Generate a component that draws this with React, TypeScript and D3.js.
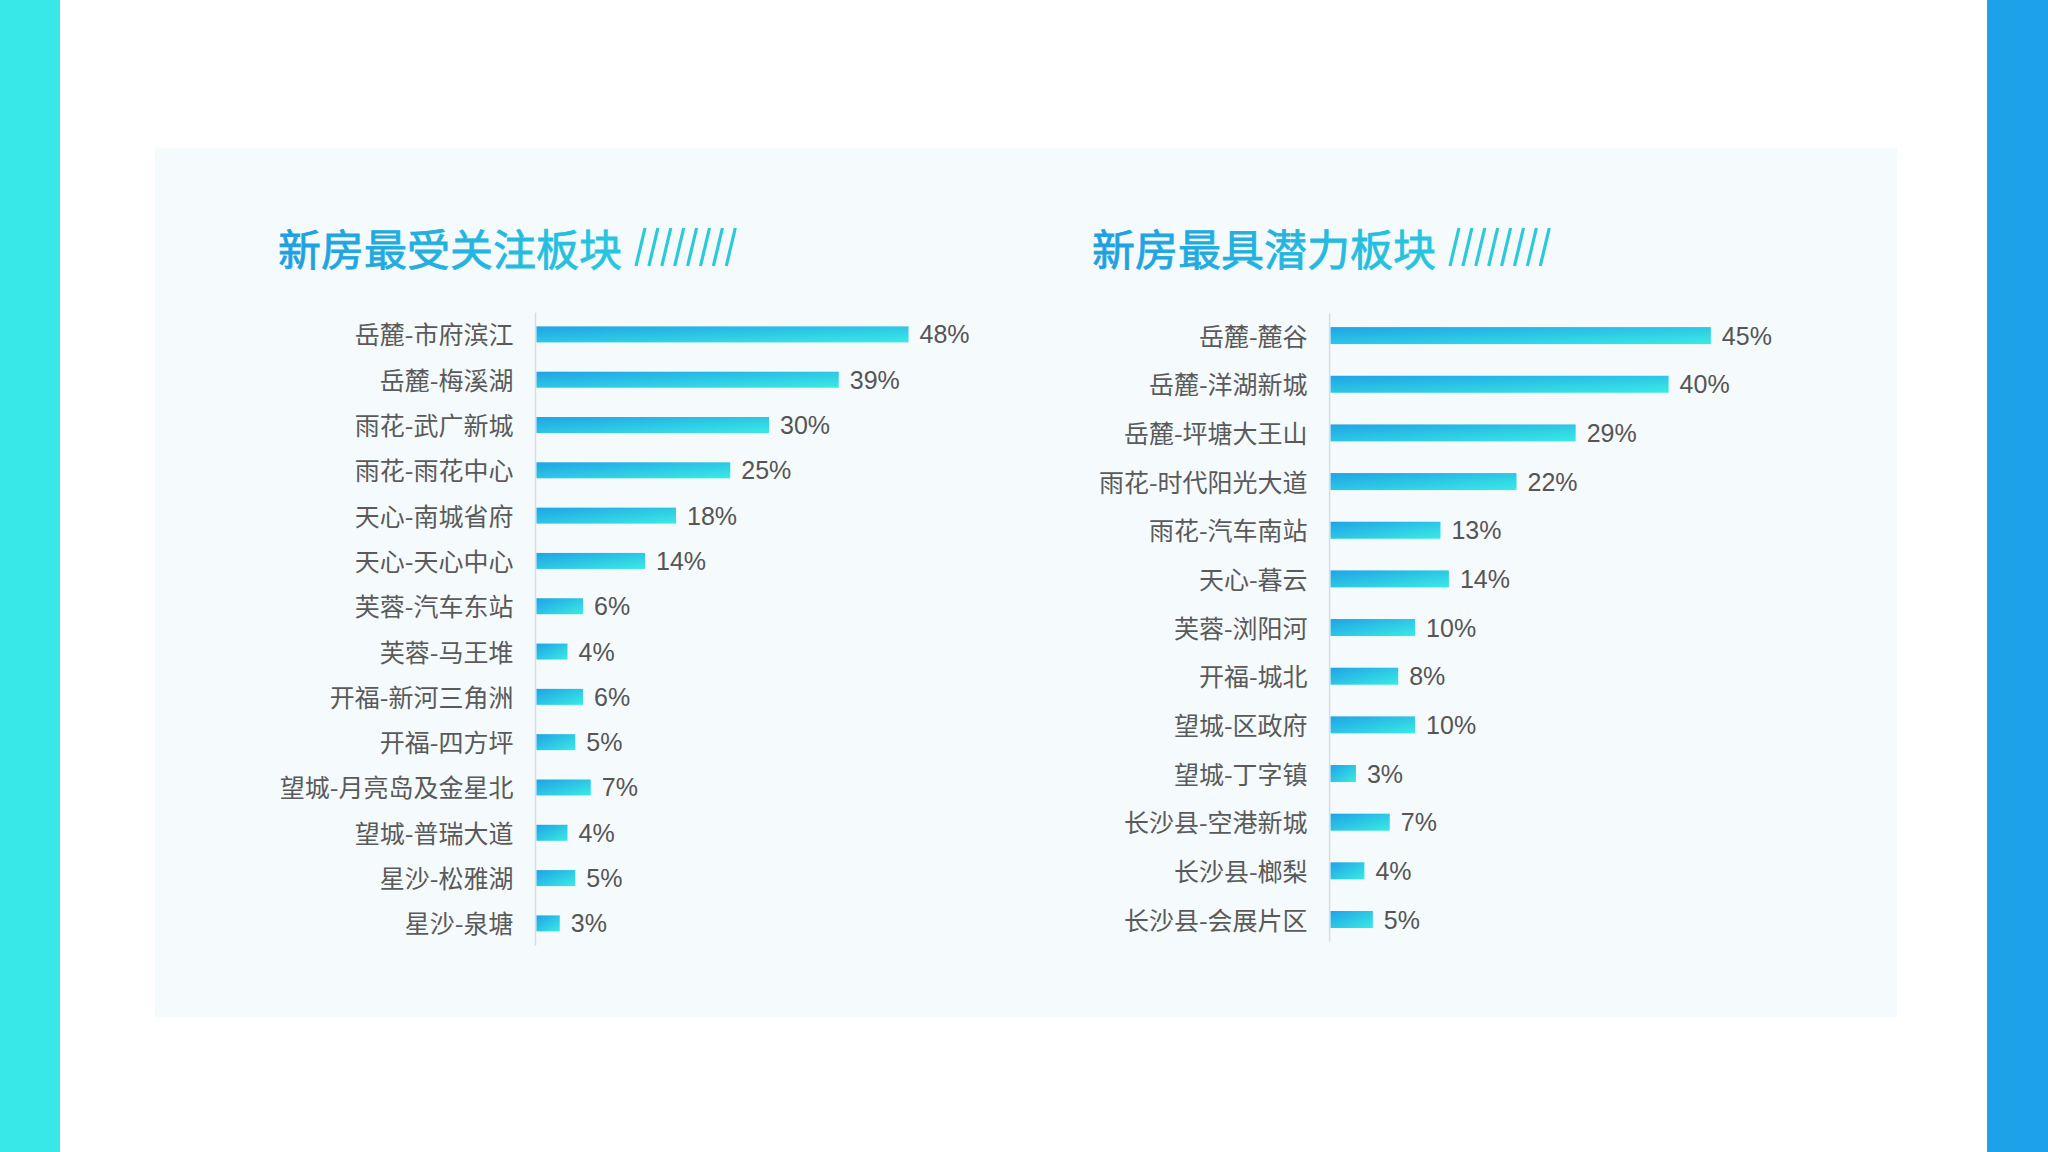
import React from 'react';
import * as d3 from 'd3';

// 新房最受关注板块
const hotNames = [
  '岳麓-市府滨江', '岳麓-梅溪湖', '雨花-武广新城', '雨花-雨花中心', '天心-南城省府',
  '天心-天心中心', '芙蓉-汽车东站', '芙蓉-马王堆', '开福-新河三角洲', '开福-四方坪',
  '望城-月亮岛及金星北', '望城-普瑞大道', '星沙-松雅湖', '星沙-泉塘',
];
const hotValues = [48, 39, 30, 25, 18, 14, 6, 4, 6, 5, 7, 4, 5, 3];

// 新房最具潜力板块
const potNames = [
  '岳麓-麓谷', '岳麓-洋湖新城', '岳麓-坪塘大王山', '雨花-时代阳光大道', '雨花-汽车南站',
  '天心-暮云', '芙蓉-浏阳河', '开福-城北', '望城-区政府', '望城-丁字镇',
  '长沙县-空港新城', '长沙县-榔梨', '长沙县-会展片区',
];
const potValues = [45, 40, 29, 22, 13, 14, 10, 8, 10, 3, 7, 4, 5];

const W = 2048;
const H = 1152;
const cjk = '"Noto Sans CJK SC", "Noto Sans", sans-serif';
const num = '"Liberation Sans", Arial, sans-serif';

function Title({ x, y, text }) {
  const fs = 43;
  const slashX = x + text.length * fs + 14;
  return (
    <g>
      <text
        x={x}
        y={y}
        fontFamily={cjk}
        fontSize={fs}
        fill="url(#titleGrad)"
        stroke="url(#titleGrad)"
        strokeWidth={0.8}
        dominantBaseline="central"
      >
        {text}
      </text>
      {d3.range(8).map(i => (
        <line
          key={i}
          x1={slashX + i * 12.9}
          y1={y + 19}
          x2={slashX + i * 12.9 + 9}
          y2={y - 19}
          stroke="#2bc9da"
          strokeWidth={3.2}
        />
      ))}
      <line
        x1={slashX + 8 * 12.9 + 12}
        x2={slashX + 8 * 12.9 + 225}
        y1={y}
        y2={y}
        stroke="url(#ruleGrad)"
        strokeWidth={2}
      />
    </g>
  );
}

function BarBlock({ names, values, axisX, top, bottom, pxPerPct, barH }) {
  const y = d3.scalePoint().domain(names).range([top, bottom]);
  const x = d3.scaleLinear().domain([0, 50]).range([axisX, axisX + 50 * pxPerPct]);
  return (
    <g>
      <line x1={axisX} x2={axisX} y1={top - 22} y2={bottom + 22} stroke="#d9dde0" strokeWidth={1.5} />
      {names.map((n, i) => {
        const cy = y(n);
        return (
          <g key={n}>
            <text
              x={axisX - 22}
              y={cy - 1}
              textAnchor="end"
              dominantBaseline="central"
              fontFamily={cjk}
              fontSize={25}
              fill="#5a5a5a"
            >
              {n}
            </text>
            <rect
              x={x(0) + 1}
              y={cy - barH / 2}
              width={x(values[i]) - x(0)}
              height={barH}
              fill="url(#barGrad)"
            />
            <text
              x={x(values[i]) + 12}
              y={cy}
              dominantBaseline="central"
              fontFamily={num}
              fontSize={25}
              fill="#555"
            >
              {values[i]}%
            </text>
          </g>
        );
      })}
    </g>
  );
}

export default function App() {
  return (
    <svg
      width={W}
      height={H}
      style={{ position: 'absolute', left: 0, top: 0, background: '#fff' }}
    >
      <defs>
        <linearGradient id="barGrad" x1="0" y1="0" x2="1" y2="1">
          <stop offset="0%" stopColor="#1fa3e6" />
          <stop offset="100%" stopColor="#3aeae4" />
        </linearGradient>
        <linearGradient id="titleGrad" x1="0" y1="0" x2="1" y2="0">
          <stop offset="0%" stopColor="#1f9ee0" />
          <stop offset="100%" stopColor="#28c6de" />
        </linearGradient>
        <linearGradient id="ruleGrad" x1="0" y1="0" x2="1" y2="0">
          <stop offset="0%" stopColor="#9fe3ec" />
          <stop offset="100%" stopColor="#f4f9fc" stopOpacity={0.3} />
        </linearGradient>
      </defs>

      <rect x={0} y={0} width={60} height={H} fill="#38e8e8" />
      <rect x={1987} y={0} width={61} height={H} fill="#1da1e8" />
      <rect x={155} y={148} width={1742} height={869} fill="#f5fafd" />

      <Title x={278} y={247} text="新房最受关注板块" />
      <Title x={1092} y={247} text="新房最具潜力板块" />

      <BarBlock
        names={hotNames}
        values={hotValues}
        axisX={535.5}
        top={334.4}
        bottom={923.4}
        pxPerPct={7.75}
        barH={16}
      />
      <BarBlock
        names={potNames}
        values={potValues}
        axisX={1329.6}
        top={335.6}
        bottom={919.5}
        pxPerPct={8.45}
        barH={17}
      />
    </svg>
  );
}
